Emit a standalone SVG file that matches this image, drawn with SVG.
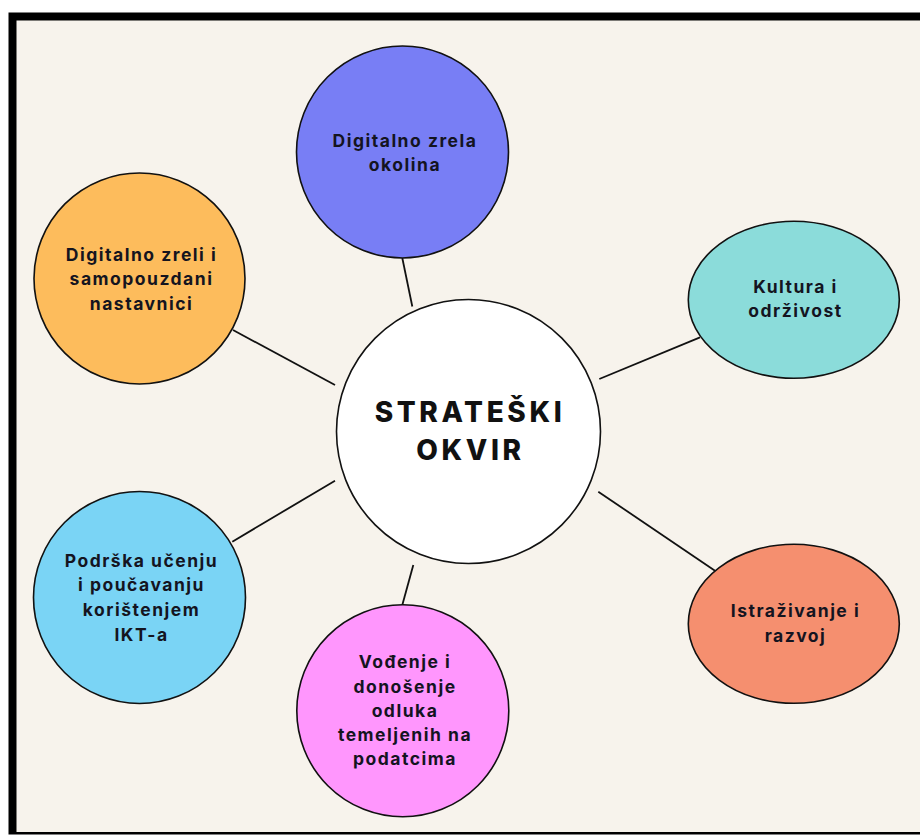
<svg xmlns="http://www.w3.org/2000/svg" width="920" height="835" viewBox="0 0 920 835">
<style>
.node{stroke:#111;stroke-width:1.6}
.lbl{font-family:Inter,"DejaVu Sans",sans-serif;font-weight:700;font-size:17.5px;letter-spacing:1.5px;fill:#14141f;text-anchor:middle}
.title{font-family:Inter,"DejaVu Sans",sans-serif;font-weight:800;font-size:28px;letter-spacing:3.6px;fill:#111;text-anchor:middle}
.conn line{stroke:#111;stroke-width:1.8}
</style>
<rect x="0" y="0" width="920" height="835" fill="#ffffff"/>
<rect x="8.5" y="12.5" width="912" height="822" fill="#000"/>
<rect x="16.5" y="20.5" width="904" height="811.5" fill="#F7F3EC"/>
<g id="connectors" class="conn">
<line x1="402.3" y1="258" x2="412.3" y2="306.5"/>
<line x1="233" y1="330" x2="335" y2="385"/>
<line x1="599.3" y1="379" x2="700" y2="337.3"/>
<line x1="598.3" y1="491.7" x2="715" y2="570.7"/>
<line x1="232.3" y1="541.7" x2="335" y2="480.7"/>
<line x1="402.3" y1="605" x2="413.3" y2="565"/>
</g>
<g id="center">
<circle class="node" cx="468.5" cy="431.5" r="132" fill="#ffffff"/>
<text class="title" x="470" y="421.5">STRATEŠKI</text>
<text class="title" x="470.5" y="460">OKVIR</text>
</g>
<g id="n-okolina">
<circle class="node" cx="402.5" cy="152" r="106" fill="#787EF5"/>
<text class="lbl" x="405" y="146.7">Digitalno zrela</text>
<text class="lbl" x="405" y="170.7">okolina</text>
</g>
<g id="n-nastavnici">
<circle class="node" cx="139.5" cy="278.5" r="105.5" fill="#FDBC5C"/>
<text class="lbl" x="141.5" y="260.7">Digitalno zreli i</text>
<text class="lbl" x="141.5" y="285.3">samopouzdani</text>
<text class="lbl" x="141.5" y="310">nastavnici</text>
</g>
<g id="n-kultura">
<ellipse class="node" cx="793.8" cy="299.8" rx="105.5" ry="78.5" fill="#8BDCDA"/>
<text class="lbl" x="795.5" y="292.7">Kultura i</text>
<text class="lbl" x="795.5" y="316.7">održivost</text>
</g>
<g id="n-istrazivanje">
<ellipse class="node" cx="793.8" cy="623.8" rx="105.5" ry="79.5" fill="#F58F6F"/>
<text class="lbl" x="795.5" y="617.3">Istraživanje i</text>
<text class="lbl" x="795.5" y="642.3">razvoj</text>
</g>
<g id="n-podrska">
<circle class="node" cx="139.5" cy="597.5" r="106" fill="#7AD4F5"/>
<text class="lbl" x="141.5" y="566.7">Podrška učenju</text>
<text class="lbl" x="141.5" y="591.3">i poučavanju</text>
<text class="lbl" x="141.5" y="616">korištenjem</text>
<text class="lbl" x="141.5" y="640.7">IKT-a</text>
</g>
<g id="n-vodenje">
<circle class="node" cx="402.8" cy="710.8" r="106" fill="#FF96FD"/>
<text class="lbl" x="405" y="668.3">Vođenje i</text>
<text class="lbl" x="405" y="692.6">donošenje</text>
<text class="lbl" x="405" y="716.8">odluka</text>
<text class="lbl" x="405" y="741">temeljenih na</text>
<text class="lbl" x="405" y="765.2">podatcima</text>
</g>
</svg>
